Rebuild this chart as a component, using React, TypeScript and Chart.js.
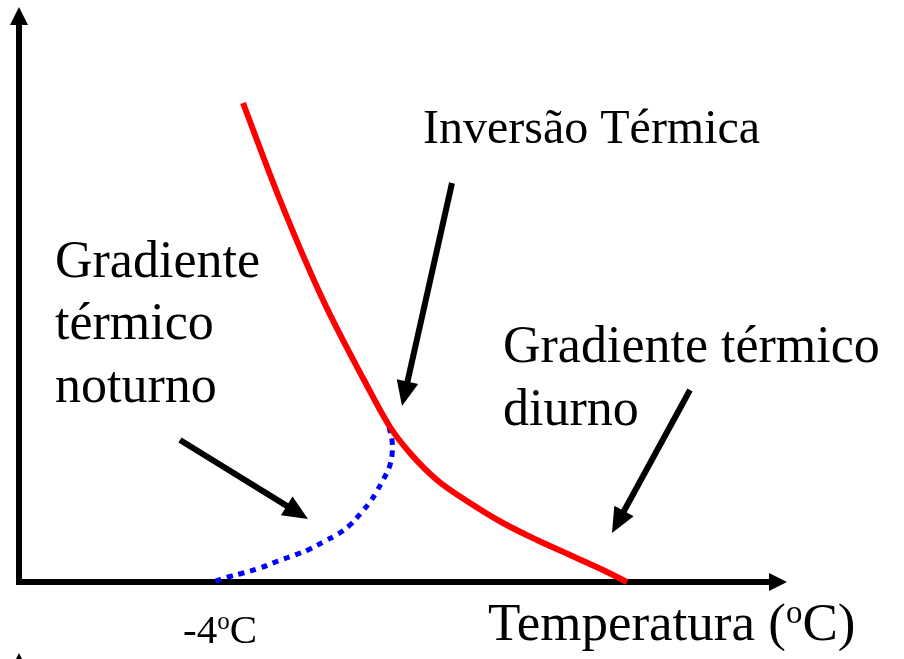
import React, { useEffect, useRef } from "react";
import { Chart, registerables } from "chart.js";
Chart.register(...registerables);

// Data units: origin at the intersection of the two axes, y grows upward.
const redX = [224, 261, 304, 345, 371, 391, 418, 451, 484, 518, 551, 584, 608];
const redY = [479, 382, 282, 202, 155, 129, 102, 79, 59, 42, 27, 12, 0];

const blueX = [370, 373, 373, 370, 364, 358, 351, 342, 331, 319, 306, 291, 276, 259, 241, 224, 209, 194];
const blueY = [155, 142, 127, 114, 102, 91, 80, 69, 57, 48, 41, 33, 27, 21, 14, 9, 5, 0];

// annotation arrows: tail -> tip
const arrowTailX = [433, 161, 671];
const arrowTailY = [399, 142, 192];
const arrowTipX = [383, 289, 593];
const arrowTipY = [176, 63, 49];

// axes
const xAxisEnd = 768;
const yAxisEnd = 575;

// text labels
const labelText = ["Inversão Térmica", "Gradiente", "térmico", "noturno", "Gradiente térmico", "diurno"];
const labelX = [404, 36, 36, 36, 484, 484];
const labelY = [439, 305, 243, 180, 220, 157];
const labelSize = [48, 52, 52, 52, 52, 52];

const FONT = "'Liberation Serif', 'Times New Roman', serif";

function drawArrowHead(ctx: CanvasRenderingContext2D, x1: number, y1: number, x2: number, y2: number, L: number, W: number) {
  const a = Math.atan2(y2 - y1, x2 - x1);
  const bx = x2 - L * Math.cos(a);
  const by = y2 - L * Math.sin(a);
  const nx = -Math.sin(a);
  const ny = Math.cos(a);
  ctx.beginPath();
  ctx.moveTo(x2, y2);
  ctx.lineTo(bx + nx * W, by + ny * W);
  ctx.lineTo(bx - nx * W, by - ny * W);
  ctx.closePath();
  ctx.fill();
}

function drawArrow(ctx: CanvasRenderingContext2D, x1: number, y1: number, x2: number, y2: number, lw: number, L: number, W: number) {
  const a = Math.atan2(y2 - y1, x2 - x1);
  const bx = x2 - (L - 2) * Math.cos(a);
  const by = y2 - (L - 2) * Math.sin(a);
  ctx.lineWidth = lw;
  ctx.lineCap = "butt";
  ctx.beginPath();
  ctx.moveTo(x1, y1);
  ctx.lineTo(bx, by);
  ctx.stroke();
  drawArrowHead(ctx, x1, y1, x2, y2, L, W);
}

function drawSupText(ctx: CanvasRenderingContext2D, x: number, y: number, before: string, sup: string, after: string, size: number) {
  ctx.font = `${size}px ${FONT}`;
  ctx.fillText(before, x, y);
  let cx = x + ctx.measureText(before).width;
  const ss = Math.round(size * 0.62);
  ctx.font = `${ss}px ${FONT}`;
  ctx.fillText(sup, cx, y - size * 0.33);
  cx += ctx.measureText(sup).width;
  ctx.font = `${size}px ${FONT}`;
  ctx.fillText(after, cx, y);
}

const decor = {
  id: "decor",
  beforeDatasetsDraw(chart: any) {
    const ctx: CanvasRenderingContext2D = chart.ctx;
    const xs = chart.scales.x;
    const ys = chart.scales.y;
    const px = (v: number) => xs.getPixelForValue(v);
    const py = (v: number) => ys.getPixelForValue(v);
    ctx.save();
    ctx.fillStyle = "#000";
    ctx.strokeStyle = "#000";
    drawArrow(ctx, px(0), py(-3), px(0), py(yAxisEnd), 6, 18, 9);
    drawArrow(ctx, px(-3), py(0), px(xAxisEnd), py(0), 6, 18, 9);
    drawArrow(ctx, px(0), py(-140), px(0), py(-71), 6, 18, 9);
    ctx.restore();
  },
  afterDatasetsDraw(chart: any) {
    const ctx: CanvasRenderingContext2D = chart.ctx;
    const xs = chart.scales.x;
    const ys = chart.scales.y;
    const px = (v: number) => xs.getPixelForValue(v);
    const py = (v: number) => ys.getPixelForValue(v);
    ctx.save();
    ctx.fillStyle = "#000";
    ctx.strokeStyle = "#000";
    for (let i = 0; i < arrowTailX.length; i++) {
      drawArrow(ctx, px(arrowTailX[i]), py(arrowTailY[i]), px(arrowTipX[i]), py(arrowTipY[i]), 6, 25, 11);
    }
    ctx.textBaseline = "alphabetic";
    ctx.textAlign = "left";
    for (let i = 0; i < labelText.length; i++) {
      ctx.font = `${labelSize[i]}px ${FONT}`;
      ctx.fillText(labelText[i], px(labelX[i]), py(labelY[i]));
    }
    drawSupText(ctx, px(164), py(-61), "-4", "o", "C", 41);
    drawSupText(ctx, px(469), py(-58), "Temperatura (", "o", "C)", 53);
    ctx.restore();
  },
};

export default function App() {
  const ref = useRef<HTMLCanvasElement | null>(null);
  useEffect(() => {
    document.body.style.margin = "0";
    const canvas = ref.current!;
    const chart = new Chart(canvas, {
      type: "scatter",
      data: {
        datasets: [
          {
            data: redX.map((x, i) => ({ x, y: redY[i] })),
            showLine: true,
            borderColor: "#ff0000",
            borderWidth: 6,
            pointRadius: 0,
            cubicInterpolationMode: "monotone",
            fill: false,
          },
          {
            data: blueX.map((x, i) => ({ x, y: blueY[i] })),
            showLine: true,
            borderColor: "#0000ff",
            borderWidth: 5,
            borderDash: [6, 6],
            borderCapStyle: "butt",
            pointRadius: 0,
            tension: 0.4,
            fill: false,
          },
        ],
      },
      options: {
        animation: false,
        responsive: false,
        maintainAspectRatio: false,
        layout: { padding: 0 },
        plugins: { legend: { display: false }, tooltip: { enabled: false }, title: { display: false } },
        scales: {
          x: { type: "linear", min: -19, max: 885, display: false },
          y: { type: "linear", min: -77, max: 582, display: false },
        },
      },
      plugins: [decor],
    } as any);
    return () => chart.destroy();
  }, []);
  return (
    <div style={{ position: "absolute", left: 0, top: 0, width: 904, height: 659, background: "#fff" }}>
      <canvas ref={ref} width={904} height={659} style={{ width: 904, height: 659, display: "block" }} />
    </div>
  );
}
